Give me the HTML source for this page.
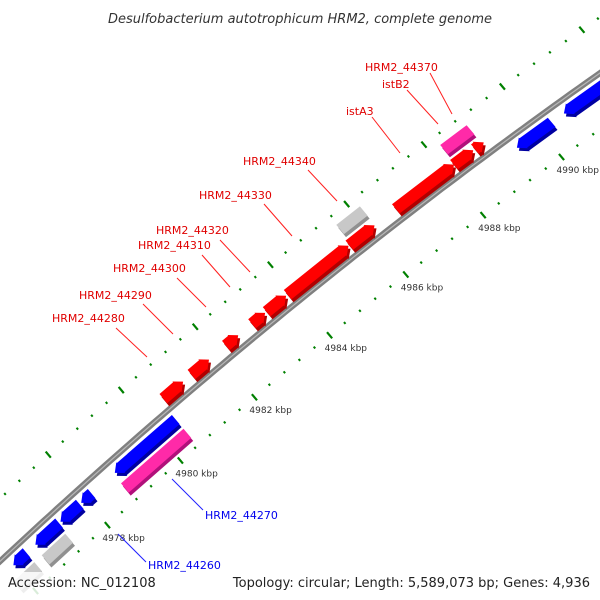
<!DOCTYPE html>
<html><head><meta charset="utf-8"><style>
html,body{margin:0;padding:0;background:#fff;width:600px;height:600px;overflow:hidden;}
svg{display:block;font-family:"DejaVu Sans","Liberation Sans",sans-serif;overflow:hidden;}
</style></head><body>
<svg id="chart" width="600" height="600" viewBox="0 0 600 600" xmlns="http://www.w3.org/2000/svg">
<rect x="0" y="0" width="600" height="600" fill="#fff"/>
<g id="ticks"></g>
<path id="backbone-outer" fill="none" stroke="#808080" stroke-width="6"/>
<path id="backbone-inner" fill="none" stroke="#b8b8b8" stroke-width="1.2"/>
<g id="genes"></g>
<g id="ticklabels" font-size="9" fill="#333"></g>
<g font-size="11" font-family="DejaVu Sans, Liberation Sans, sans-serif">
<g fill="#e00000" stroke="none">
<text x="365" y="71">HRM2_44370</text>
<text x="382" y="88">istB2</text>
<text x="346" y="115">istA3</text>
<text x="243" y="165">HRM2_44340</text>
<text x="199" y="199">HRM2_44330</text>
<text x="156" y="234">HRM2_44320</text>
<text x="138" y="249">HRM2_44310</text>
<text x="113" y="272">HRM2_44300</text>
<text x="79" y="299">HRM2_44290</text>
<text x="52" y="322">HRM2_44280</text>
</g>
<g stroke="#ff2020" stroke-width="1">
<line x1="430" y1="73" x2="452" y2="114"/>
<line x1="407" y1="90" x2="438" y2="124"/>
<line x1="372" y1="117" x2="400" y2="153"/>
<line x1="308" y1="170" x2="337" y2="201"/>
<line x1="264" y1="204" x2="292" y2="236"/>
<line x1="220" y1="240" x2="250" y2="272"/>
<line x1="202" y1="255" x2="230" y2="287"/>
<line x1="177" y1="278" x2="206" y2="307"/>
<line x1="143" y1="304" x2="173" y2="334"/>
<line x1="116" y1="328" x2="147" y2="357"/>
</g>
<g fill="#0000ee">
<text x="205" y="519">HRM2_44270</text>
<text x="148" y="569">HRM2_44260</text>
</g>
<g stroke="#2020ff" stroke-width="1">
<line x1="172" y1="479" x2="203" y2="510"/>
<line x1="118" y1="534" x2="146" y2="562"/>
</g>
</g>
<text x="300" y="23" text-anchor="middle" font-size="13" font-style="italic" fill="#333">Desulfobacterium autotrophicum HRM2, complete genome</text>
<rect x="0" y="572" width="600" height="28" fill="#fff" fill-opacity="0.85"/>
<text x="8" y="587" font-size="13" fill="#222">Accession: NC_012108</text>
<text x="590" y="587" text-anchor="end" font-size="13" fill="#222">Topology: circular; Length: 5,589,073 bp; Genes: 4,936</text>
</svg>
<script>
// gene data (kbp)
var geneStarts = [4980.550,4981.310,4982.234,4982.932,4983.322,4983.877,4985.499,4986.711,4988.209,4988.743, 4985.561,4988.251, 4989.421,4990.612,4991.721,4978.805,4977.306,4977.881,4976.608,4975.992, 4978.764,4976.567,4975.786];
var geneEnds   = [4981.084,4981.782,4982.563,4983.281,4983.836,4985.478,4986.156,4988.209,4988.702,4988.969, 4986.177,4988.928, 4990.304,4991.639,4992.830,4980.468,4977.840,4978.168,4977.265,4976.361, 4980.468,4977.224,4976.361];
var geneKinds  = ["fwd","fwd","fwd","fwd","fwd","fwd","fwd","fwd","fwd","fwd", "grayIn","pinkIn", "rev","rev","rev","rev","rev","rev","rev","rev", "pinkOut","grayOut","grayOut"];
var tickLabelValues = [4978,4980,4982,4984,4986,4988,4990];

var O=[300,300], T=[0.766,-0.643], N=[0.643,0.766];
var ORIGIN_KBP=4984, PX_PER_KBP=48.7, CA=0.0172, CB=8.91e-5;
function sOf(k){return (k-ORIGIN_KBP)*PX_PER_KBP;}
function P(s,n){var off=n+CA*s+CB*s*s;return [O[0]+s*T[0]+off*N[0],O[1]+s*T[1]+off*N[1]];}
function pt(p){return p[0].toFixed(1)+","+p[1].toFixed(1);}
var NS="http://www.w3.org/2000/svg";
function mk(tag,parent){var e=document.createElementNS(NS,tag);parent.appendChild(e);return e;}

// backbone
var d="";
for(var s=-480;s<=480;s+=10){d+=(s===-480?"M":"L")+pt(P(s,0));}
document.getElementById("backbone-outer").setAttribute("d",d);
document.getElementById("backbone-inner").setAttribute("d",d);

// ticks
var tg=document.getElementById("ticks");
for(var i=0;i<=50;i++){
  var k=4974+i*0.4; var sk=sOf(k);
  var major=Math.abs(k/2-Math.round(k/2))<0.01;
  [-46,46].forEach(function(n){
    var h=major?4:1.2;
    var a=P(sk,n-h),b=P(sk,n+h);
    var l=mk("line",tg);
    
    
    l.setAttribute("x1",a[0]);l.setAttribute("y1",a[1]);l.setAttribute("x2",b[0]);l.setAttribute("y2",b[1]);
    l.setAttribute("stroke","#008000");l.setAttribute("stroke-width",major?2.2:2);
  });
}
var tl=document.getElementById("ticklabels");
tickLabelValues.forEach(function(k){
  var p=P(sOf(k),46);
  var t=mk("text",tl);
  
  
  t.setAttribute("x",(p[0]-5).toFixed(1));t.setAttribute("y",(p[1]+16).toFixed(1));
  t.textContent=k+" kbp";
});

// genes
var styles={fwd:{n:-12,c:"#ff0000",dk:"#b00000"},rev:{n:12,c:"#0000ff",dk:"#0000a0"},
 grayIn:{n:-30,c:"#c8c8c8",dk:"#909090"},pinkIn:{n:-30,c:"#ff2aa8",dk:"#b0107a"},
 pinkOut:{n:30,c:"#ff2aa8",dk:"#b0107a"},grayOut:{n:30,c:"#c8c8c8",dk:"#909090"}};
var gg=document.getElementById("genes");
for(var g=0;g<geneStarts.length;g++){
  var st=styles[geneKinds[g]];
  var s0=sOf(geneStarts[g]),s1=sOf(geneEnds[g]),n0=st.n-6,n1=st.n+6,hw=8;
  var pts;
  if(geneKinds[g]==="fwd"){
    var m=Math.max(s0,s1-hw);
    pts=[P(s0,n0),P(m,n0),P(m,n0-1),P(s1,st.n),P(m,n1+1),P(m,n1),P(s0,n1)];
  } else if(geneKinds[g]==="rev"){
    var m2=Math.min(s1,s0+hw);
    pts=[P(s1,n0),P(m2,n0),P(m2,n0-1),P(s0,st.n),P(m2,n1+1),P(m2,n1),P(s1,n1)];
  } else {
    pts=[P(s0,n0),P(s1,n0),P(s1,n1),P(s0,n1)];
  }
  var str=pts.map(pt).join(" ");
  var sh=mk("polygon",gg);
  
  
  sh.setAttribute("points",str);sh.setAttribute("fill",st.dk);
  sh.setAttribute("transform","translate(2,3)");
  var f=mk("polygon",gg);
  
  
  f.setAttribute("points",str);f.setAttribute("fill",st.c);
}
</script>
</body></html>
